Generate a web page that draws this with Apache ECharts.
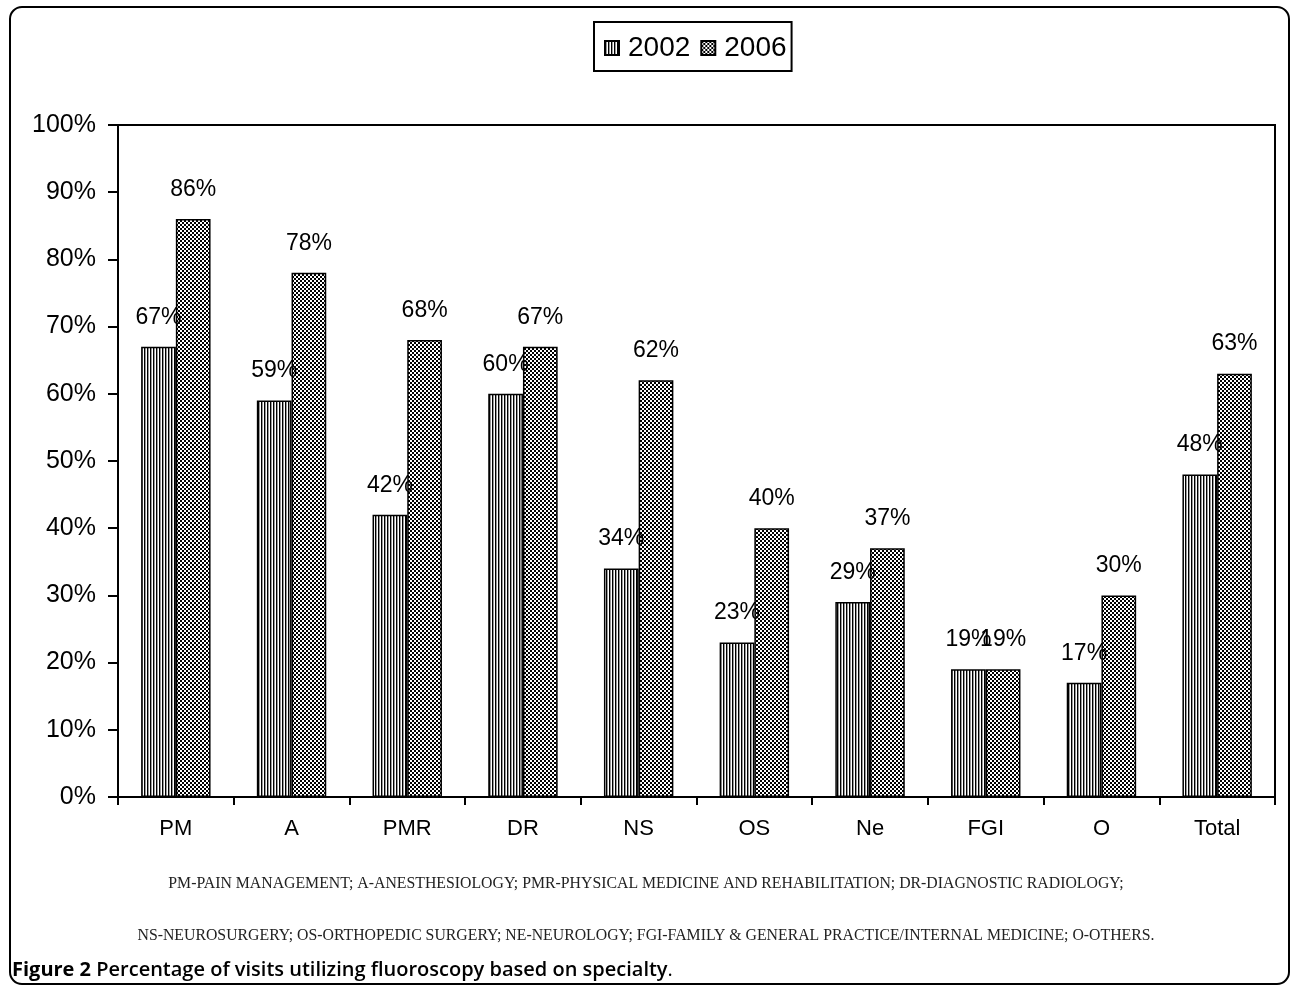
<!DOCTYPE html>
<html>
<head>
<meta charset="utf-8">
<script src="https://cdn.jsdelivr.net/npm/echarts@6/dist/echarts.min.js"></script>
<style>
html,body{margin:0;padding:0;background:#fff;}
#chart{width:1292px;height:989px;}
</style>
</head>
<body>
<div id="chart"></div>
<script>
const categories = ['PM','A','PMR','DR','NS','OS','Ne','FGI','O','Total'];
const seriesNames = ['2002','2006'];
const values2002 = [67,59,42,60,34,23,29,19,17,48];
const values2006 = [86,78,68,67,62,40,37,19,30,63];
const yTicks = [0,10,20,30,40,50,60,70,80,90,100];
const footnote1 = 'PM-PAIN MANAGEMENT; A-ANESTHESIOLOGY; PMR-PHYSICAL MEDICINE AND REHABILITATION; DR-DIAGNOSTIC RADIOLOGY;';
const footnote2 = 'NS-NEUROSURGERY; OS-ORTHOPEDIC SURGERY; NE-NEUROLOGY; FGI-FAMILY & GENERAL PRACTICE/INTERNAL MEDICINE; O-OTHERS.';
const captionBold = 'Figure 2';
const captionText = ' Percentage of visits utilizing fluoroscopy based on specialty';

function stripes(){
  const c = document.createElement('canvas');
  c.width = 3; c.height = 3;
  const g = c.getContext('2d');
  g.fillStyle = '#fff'; g.fillRect(0,0,3,3);
  g.fillStyle = '#000'; g.fillRect(0,0,1,3);
  g.fillStyle = '#999'; g.fillRect(1,0,1,3);
  return c;
}
function checker(){
  const c = document.createElement('canvas');
  c.width = 4; c.height = 4;
  const g = c.getContext('2d');
  g.fillStyle = '#fff'; g.fillRect(0,0,4,4);
  g.fillStyle = '#000'; g.fillRect(0,0,2,2); g.fillRect(2,2,2,2);
  return c;
}

const chart = echarts.init(document.getElementById('chart'), null, {renderer:'canvas'});
const font = 'Liberation Sans, Arial, sans-serif';
const labelCfg = {
  show: true, position: 'top', distance: 18,
  formatter: p => p.value + '%',
  fontFamily: font, fontSize: 23, color: '#000'
};
chart.setOption({
  animation: false,
  backgroundColor: '#fff',
  textStyle: {fontFamily: font},
  legend: {
    left: 594, top: 22,
    data: seriesNames,
    icon: 'rect',
    itemWidth: 14, itemHeight: 14, itemGap: 10,
    borderColor: '#000', borderWidth: 2, borderRadius: 0,
    padding: [12, 5, 9, 10],
    textStyle: {fontFamily: font, fontSize: 28, color: '#000', padding: [0,0,0,4]}
  },
  grid: {
    left: 118, top: 125, right: 17, bottom: 192,
    show: true, borderColor: '#000', borderWidth: 2, backgroundColor: 'transparent'
  },
  xAxis: {
    type: 'category', data: categories,
    axisLine: {lineStyle: {color: '#000', width: 2}},
    axisTick: {show: true, length: 8, lineStyle: {color: '#000', width: 2}},
    axisLabel: {fontFamily: font, fontSize: 22, color: '#000', margin: 21}
  },
  yAxis: {
    type: 'value', min: yTicks[0], max: yTicks[yTicks.length-1], interval: 10,
    axisLine: {show: true, lineStyle: {color: '#000', width: 2}},
    axisTick: {show: true, length: 10, lineStyle: {color: '#000', width: 2}},
    splitLine: {show: false},
    axisLabel: {fontFamily: font, fontSize: 25, color: '#000', margin: 22, formatter: v => v + '%'}
  },
  series: [
    {
      name: seriesNames[0], type: 'bar', data: values2002,
      barGap: '0%', barCategoryGap: '40%',
      itemStyle: {color: {image: stripes(), repeat: 'repeat'}, borderColor: '#000', borderWidth: 1.5},
      label: labelCfg
    },
    {
      name: seriesNames[1], type: 'bar', data: values2006,
      barGap: '0%', barCategoryGap: '40%',
      itemStyle: {color: {image: checker(), repeat: 'repeat'}, borderColor: '#000', borderWidth: 1.5},
      label: labelCfg
    }
  ],
  graphic: [
    {type: 'rect', shape: {x: 10, y: 7, width: 1279, height: 977, r: 12}, style: {fill: 'none', stroke: '#000', lineWidth: 2}, silent: true, z: 100},
    {type: 'text', left: 'center', top: 876, style: {text: footnote1, font: '15.8px "Liberation Serif", serif', fill: '#222'}},
    {type: 'text', left: 'center', top: 928, style: {text: footnote2, font: '15.8px "Liberation Serif", serif', fill: '#222'}},
    {type: 'text', left: 12, top: 960, style: {
      text: '{b|' + captionBold + '}{n|' + captionText + '}{p|.}',
      rich: {
        b: {fontFamily: 'Open Sans', fontWeight: 'bold', fontSize: 20, color: '#000'},
        n: {fontFamily: 'Open Sans', fontWeight: 600, fontSize: 20, color: '#000'},
        p: {fontFamily: 'Open Sans', fontSize: 20, color: '#555'}
      }
    }}
  ]
});
</script>
</body>
</html>
